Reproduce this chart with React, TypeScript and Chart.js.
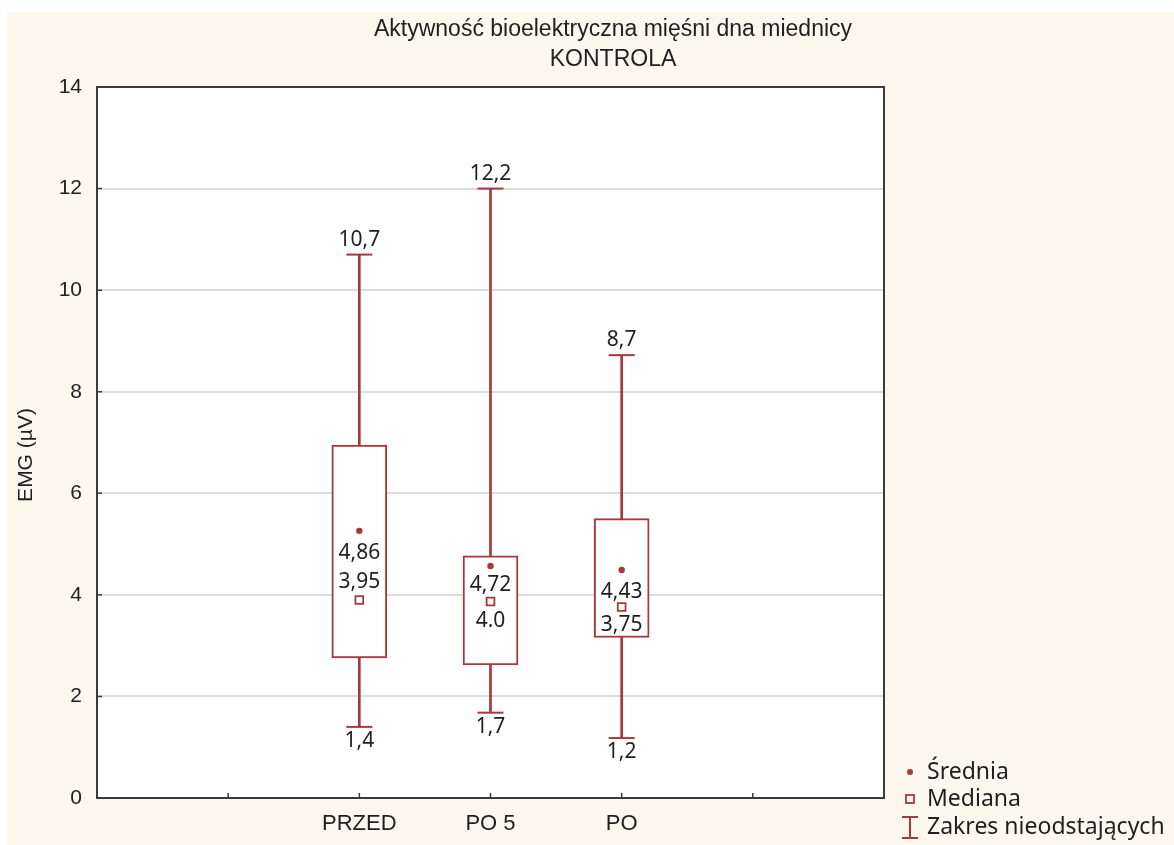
import React, { useEffect, useRef } from "react";
import { Chart, registerables } from "chart.js";

Chart.register(...registerables);

// ---- data ----
const categories = ["PRZED", "PO 5", "PO"];
const categoryX = [2, 3, 4];
const whiskerMin = [1.4, 1.68, 1.18];
const whiskerMax = [10.7, 12.0, 8.72];
const boxQ1 = [2.76, 2.62, 3.16];
const boxQ3 = [6.95, 4.77, 5.5];
const meanValues = [5.26, 4.57, 4.49];
const medianValues = [3.9, 3.87, 3.76];
const topLabels = ["10,7", "12,2", "8,7"];
const bottomLabels = ["1,4", "1,7", "1,2"];
const meanLabels = ["4,86", "4,72", "4,43"];
const medianLabels = ["3,95", "4.0", "3,75"];
const yTicks = [0, 2, 4, 6, 8, 10, 12, 14];
const xTickMarks = [1, 2, 3, 4, 5];
const titleLines = ["Aktywność bioelektryczna mięśni dna miednicy", "KONTROLA"];
const yTitle = "EMG (µV)";
const legendLabels = ["Średnia", "Mediana", "Zakres nieodstających"];

// ---- style ----
const RED = "#a8383c";
const TEXT = "#1f1f1f";
const CREAM = "#fdf8ee";
const meanLabelDy = [22, 19, 22];
const medianLabelDy = [-18, 20, 18];
const labelFont = '21px "Noto Sans"';
const legendFont = '23px "Noto Sans"';

const decorPlugin = {
  id: "decor",
  beforeDraw(chart: any) {
    const { ctx, chartArea: a, width, height } = chart;
    ctx.save();
    ctx.fillStyle = "#ffffff";
    ctx.fillRect(0, 0, width, height);
    ctx.fillStyle = CREAM;
    ctx.fillRect(7, 12, width - 7, height - 12);
    ctx.fillStyle = "#ffffff";
    ctx.fillRect(a.left, a.top, a.right - a.left, a.bottom - a.top);
    ctx.restore();
  },
  afterDraw(chart: any) {
    const { ctx, chartArea: a } = chart;
    const xs = chart.scales.x;
    const ys = chart.scales.y;
    ctx.save();
    // plot frame
    ctx.strokeStyle = "#3a3a3a";
    ctx.lineWidth = 2;
    ctx.strokeRect(a.left, a.top, a.right - a.left, a.bottom - a.top);
    // inside ticks
    ctx.lineWidth = 1.5;
    ctx.beginPath();
    xTickMarks.forEach((v) => {
      const px = xs.getPixelForValue(v);
      ctx.moveTo(px, a.bottom);
      ctx.lineTo(px, a.bottom - 5);
    });
    yTicks.forEach((v) => {
      const py = ys.getPixelForValue(v);
      ctx.moveTo(a.left, py);
      ctx.lineTo(a.left + 5, py);
    });
    ctx.stroke();

    // title
    ctx.fillStyle = TEXT;
    ctx.font = '23px "Liberation Sans"';
    ctx.textAlign = "center";
    ctx.textBaseline = "middle";
    ctx.fillText(titleLines[0], 613, 30);
    ctx.fillText(titleLines[1], 613, 60);

    // y title
    ctx.save();
    ctx.translate(26, 455);
    ctx.rotate(-Math.PI / 2);
    ctx.font = '21px "Liberation Sans"';
    ctx.fillText(yTitle, 0, 0);
    ctx.restore();

    // data labels
    ctx.font = labelFont;
    ctx.fillStyle = TEXT;
    categoryX.forEach((cx, i) => {
      const px = xs.getPixelForValue(cx);
      ctx.fillText(topLabels[i], px, ys.getPixelForValue(whiskerMax[i]) - 15);
      ctx.fillText(bottomLabels[i], px, ys.getPixelForValue(whiskerMin[i]) + 14);
      ctx.fillText(meanLabels[i], px, ys.getPixelForValue(meanValues[i]) + meanLabelDy[i]);
      ctx.fillText(medianLabels[i], px, ys.getPixelForValue(medianValues[i]) + medianLabelDy[i]);
    });

    // legend
    const lx = 910;
    const tx = 927;
    const ly = [772, 799, 827];
    ctx.textAlign = "left";
    ctx.font = legendFont;
    legendLabels.forEach((t, i) => ctx.fillText(t, tx, ly[i]));
    ctx.fillStyle = RED;
    ctx.beginPath();
    ctx.arc(lx, ly[0], 3, 0, Math.PI * 2);
    ctx.fill();
    ctx.strokeStyle = RED;
    ctx.lineWidth = 1.8;
    ctx.strokeRect(lx - 4, ly[1] - 4, 8, 8);
    ctx.lineWidth = 2;
    ctx.beginPath();
    ctx.moveTo(lx - 8, ly[2] - 10);
    ctx.lineTo(lx + 8, ly[2] - 10);
    ctx.moveTo(lx, ly[2] - 10);
    ctx.lineTo(lx, ly[2] + 11);
    ctx.moveTo(lx - 8, ly[2] + 11);
    ctx.lineTo(lx + 8, ly[2] + 11);
    ctx.stroke();
    ctx.restore();
  },
};

export default function App() {
  const ref = useRef<HTMLCanvasElement | null>(null);
  useEffect(() => {
    if (!ref.current) return;
    const chart = new Chart(ref.current, {
      type: "bar",
      data: {
        datasets: [
          {
            type: "bar",
            label: "whisker",
            data: categoryX.map((x, i) => ({ x, y: [whiskerMin[i], whiskerMax[i]] })) as any,
            backgroundColor: RED,
            borderWidth: 0,
            barThickness: 2,
            grouped: false,
            order: 4,
          } as any,
          {
            type: "bar",
            label: "box",
            data: categoryX.map((x, i) => ({ x, y: [boxQ1[i], boxQ3[i]] })) as any,
            backgroundColor: "#ffffff",
            borderColor: RED,
            borderWidth: 2,
            borderSkipped: false,
            barThickness: 55,
            grouped: false,
            order: 3,
          } as any,
          {
            type: "scatter",
            label: "caps",
            data: [
              ...categoryX.map((x, i) => ({ x, y: whiskerMin[i] })),
              ...categoryX.map((x, i) => ({ x, y: whiskerMax[i] })),
            ],
            pointStyle: "line",
            pointRadius: 13,
            borderColor: RED,
            borderWidth: 2,
            order: 2,
          } as any,
          {
            type: "scatter",
            label: "Średnia",
            data: categoryX.map((x, i) => ({ x, y: meanValues[i] })),
            pointStyle: "circle",
            pointRadius: 3.2,
            backgroundColor: RED,
            borderColor: RED,
            borderWidth: 0,
            order: 1,
          } as any,
          {
            type: "scatter",
            label: "Mediana",
            data: categoryX.map((x, i) => ({ x, y: medianValues[i] })),
            pointStyle: "rect",
            pointRadius: 5.5,
            backgroundColor: "#ffffff",
            borderColor: RED,
            borderWidth: 1.8,
            order: 0,
          } as any,
        ],
      },
      options: {
        responsive: false,
        animation: false,
        events: [],
        layout: { padding: { left: 0, top: 87, right: 290, bottom: 0 } },
        plugins: {
          legend: { display: false },
          tooltip: { enabled: false },
          title: { display: false },
        },
        scales: {
          x: {
            type: "linear",
            min: 0,
            max: 6,
            offset: false,
            afterFit: (s: any) => {
              s.height = 47;
            },
            afterBuildTicks: (s: any) => {
              s.ticks = [0, 1, 2, 3, 4, 5, 6].map((v) => ({ value: v }));
            },
            ticks: {
              autoSkip: false,
              maxRotation: 0,
              padding: 13,
              color: TEXT,
              font: { family: "Liberation Sans", size: 22 },
              callback: (v: any) => {
                const idx = categoryX.indexOf(Number(v));
                return idx >= 0 ? categories[idx] : "";
              },
            },
            grid: { display: false, drawTicks: false },
            border: { display: false },
          },
          y: {
            min: 0,
            max: 14,
            afterFit: (s: any) => {
              s.width = 97;
            },
            afterBuildTicks: (s: any) => {
              s.ticks = yTicks.map((v) => ({ value: v }));
            },
            ticks: {
              padding: 15,
              color: TEXT,
              font: { family: "Liberation Sans", size: 21 },
            },
            grid: { color: "#dcdcdc", lineWidth: 2, drawTicks: false },
            border: { display: false },
          },
        },
      },
      plugins: [decorPlugin],
    } as any);
    return () => chart.destroy();
  }, []);
  return (
    <div style={{ position: "fixed", left: 0, top: 0, width: 1174, height: 845 }}>
      <canvas ref={ref} width={1174} height={845} style={{ display: "block" }} />
    </div>
  );
}
